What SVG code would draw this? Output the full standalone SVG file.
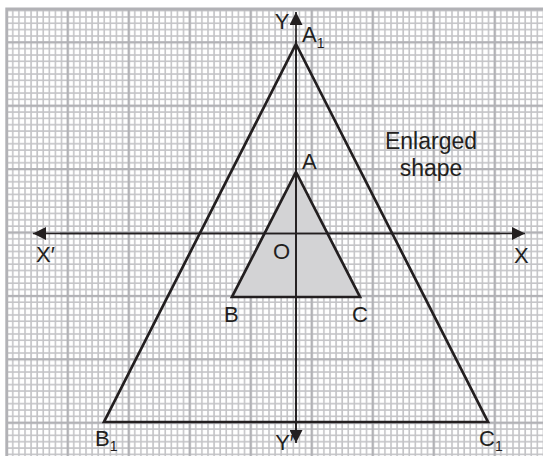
<svg xmlns="http://www.w3.org/2000/svg" width="543" height="456" viewBox="0 0 543 456">
<style>
.lbl{font-family:"Liberation Sans",Arial,sans-serif;font-size:22px;fill:#231f20}
.big{font-size:23px}
.sub{font-size:14px}
.tri{stroke:#231f20;stroke-width:2.7;stroke-linejoin:miter}
.axis{stroke:#231f20;stroke-width:1.7;fill:none}
</style>
<defs>
<pattern id="minor" patternUnits="userSpaceOnUse" x="5.7" y="41.3" width="6.1" height="6.34">
<path d="M0 1H6.1M1 0V6.34" stroke="#c4c4c7" stroke-width="1.6" fill="none"/>
</pattern>
<pattern id="major" patternUnits="userSpaceOnUse" x="5.7" y="41.3" width="61" height="63.4">
<path d="M0 1H61M1 0V63.4" stroke="#b2b2b6" stroke-width="2.4" fill="none"/>
</pattern>
<marker id="arr" markerUnits="userSpaceOnUse" markerWidth="13" markerHeight="13" refX="13" refY="6.5" orient="auto">
<path d="M0 0L13 6.5L0 13z" fill="#231f20"/>
</marker>
</defs>
<rect width="543" height="456" fill="#fff"/>
<g id="grid">
<rect x="6.7" y="9" width="537" height="447" fill="url(#minor)"/>
<rect x="6.7" y="9" width="537" height="447" fill="url(#major)"/>
<path d="M6.7 456V9H543" stroke="#b2b2b6" stroke-width="2.8" fill="none"/>
</g>
<g id="enlarged-triangle">
<polygon class="tri" points="296,44 488,422 104,422" fill="none"/>
</g>
<g id="triangle-ABC">
<polygon class="tri" points="296,172 360,297 232,297" fill="#d3d3d5"/>
</g>
<g id="axes">
<line class="axis" x1="296" y1="440" x2="296" y2="12" marker-end="url(#arr)"/>
<line class="axis" x1="296" y1="40" x2="296" y2="443" marker-end="url(#arr)"/>
<line class="axis" x1="60" y1="233.5" x2="525" y2="233.5" marker-end="url(#arr)"/>
<line class="axis" x1="500" y1="233.5" x2="33" y2="233.5" marker-end="url(#arr)"/>
</g>
<g id="labels">
<text class="lbl" x="282" y="29" text-anchor="middle">Y</text>
<text class="lbl" x="302" y="42">A<tspan class="sub" dy="6">1</tspan></text>
<text class="lbl" x="302" y="169">A</text>
<text class="lbl" x="273" y="259">O</text>
<text class="lbl" x="224" y="322">B</text>
<text class="lbl" x="352" y="322">C</text>
<text class="lbl" x="95" y="446">B<tspan class="sub" dy="5">1</tspan></text>
<text class="lbl" x="479" y="446">C<tspan class="sub" dy="5">1</tspan></text>
<text class="lbl" x="36" y="262">X′</text>
<text class="lbl" x="514" y="263">X</text>
<text class="lbl" x="294" y="450" text-anchor="end">Y′</text>
<text class="lbl big" x="431" y="149" text-anchor="middle">Enlarged</text>
<text class="lbl big" x="431" y="176" text-anchor="middle">shape</text>
</g>
</svg>
